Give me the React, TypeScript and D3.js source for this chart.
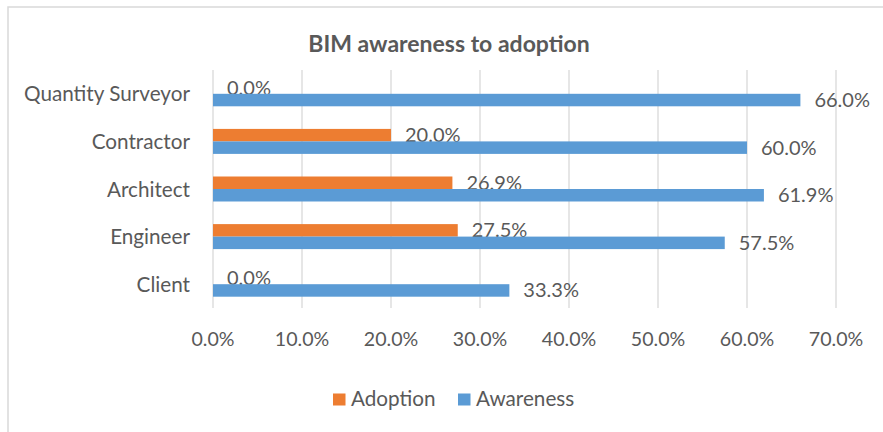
import React from "react";
import * as d3 from "d3";

const categories = ["Quantity Surveyor", "Contractor", "Architect", "Engineer", "Client"];
const adoption = [0.0, 20.0, 26.9, 27.5, 0.0];
const awareness = [66.0, 60.0, 61.9, 57.5, 33.3];
const xTicks = [0, 10, 20, 30, 40, 50, 60, 70];
const seriesNames = ["Adoption", "Awareness"];
const seriesColors = ["#ED7D31", "#5B9BD5"];
const title = "BIM awareness to adoption";

const W = 883;
const H = 432;
const FONT = "Lato, 'Open Sans', sans-serif";
const TXT = "#595959";

export default function App() {
  const x = d3.scaleLinear().domain([0, 70]).range([213, 836]);
  const y = d3.scaleBand<string>().domain(categories).range([70, 308]).paddingInner(0.475).paddingOuter(0.2375);
  const sub = d3.scaleBand<string>().domain(seriesNames).range([0, y.bandwidth()]);
  const series = [adoption, awareness];
  const fmt = (v: number) => v.toFixed(1) + "%";

  return (
    <svg width={W} height={H} style={{ position: "absolute", left: 0, top: 0, background: "#fff" }} fontFamily={FONT}>
      <rect x={8} y={7} width={W + 10} height={H + 10} fill="#fff" stroke="#D9D9D9" strokeWidth={1.5} />
      <text x={449} y={51.5} textAnchor="middle" fontSize={23} fontWeight="bold" fill={TXT}>{title}</text>
      {xTicks.map((t) => (
        <line key={"g" + t} x1={x(t)} x2={x(t)} y1={70} y2={308} stroke="#D9D9D9" strokeWidth={1.3} />
      ))}
      {xTicks.map((t) => (
        <text key={"t" + t} x={x(t)} y={345.5} textAnchor="middle" fontSize={19.6} fill={TXT}>{fmt(t)}</text>
      ))}
      {categories.map((c) => (
        <text key={"c" + c} x={190} y={(y(c) as number) + y.bandwidth() / 2 + 7.5} textAnchor="end" fontSize={20.7} fill={TXT}>{c}</text>
      ))}
      {series.map((vals, si) =>
        categories.map((c, i) => {
          const y0 = (y(c) as number) + (sub(seriesNames[si]) as number);
          return (
            <g key={si + "-" + c}>
              <rect x={x(0)} y={y0} width={x(vals[i]) - x(0)} height={sub.bandwidth()} fill={seriesColors[si]} />
              <text x={x(vals[i]) + 14} y={y0 + sub.bandwidth() / 2 + 7} fontSize={20} fill={TXT}>{fmt(vals[i])}</text>
            </g>
          );
        })
      )}
      {seriesNames.map((s, i) => {
        const lx = i === 0 ? 333 : 458;
        return (
          <g key={"l" + s}>
            <rect x={lx} y={393.5} width={12.5} height={12} fill={seriesColors[i]} />
            <text x={lx + 18} y={406} fontSize={20.7} fill={TXT}>{s}</text>
          </g>
        );
      })}
    </svg>
  );
}
